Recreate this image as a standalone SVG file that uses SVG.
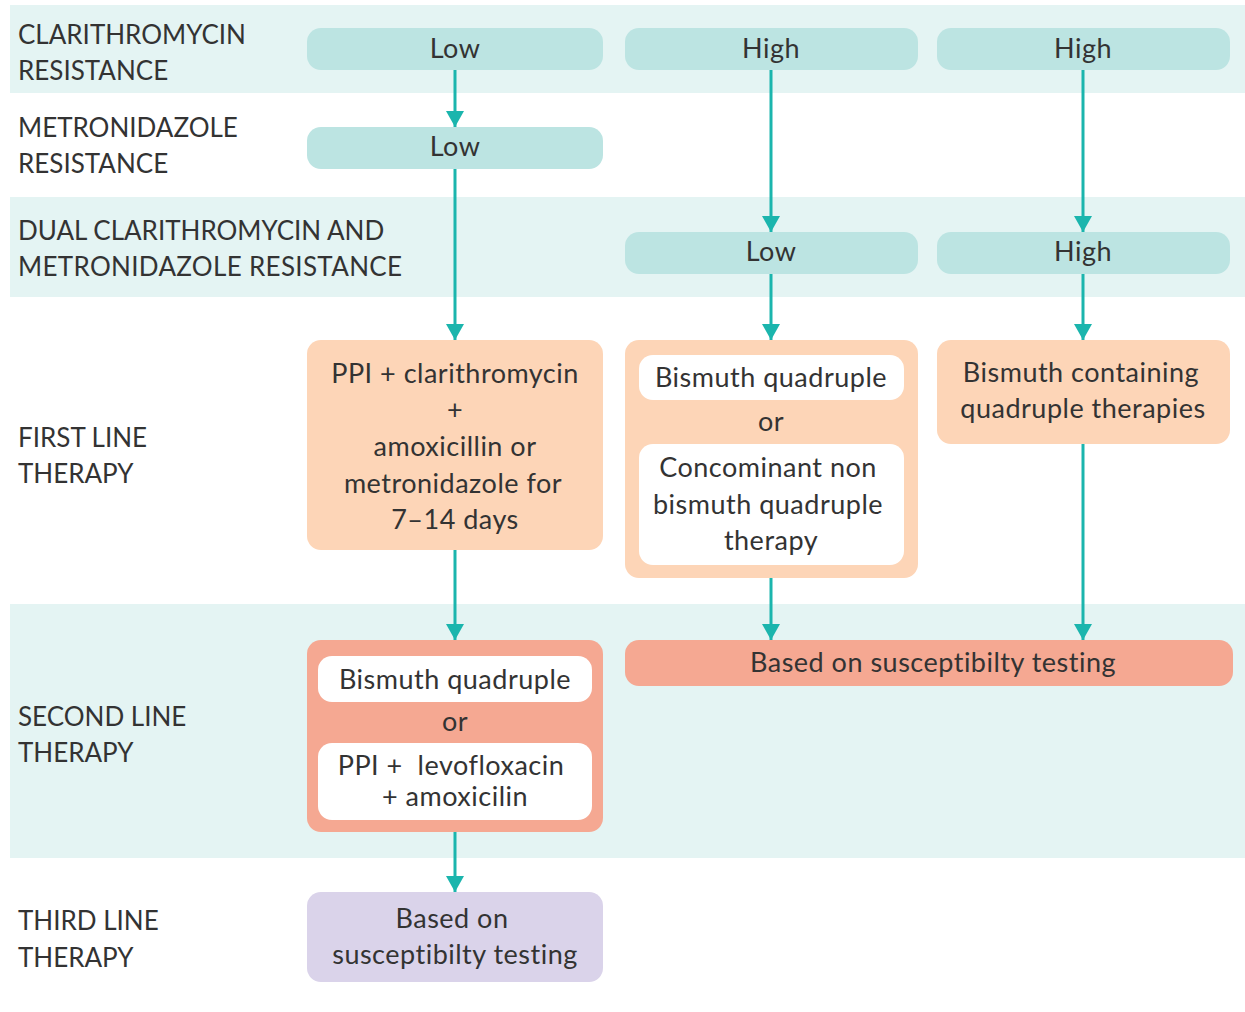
<svg xmlns="http://www.w3.org/2000/svg" width="1245" height="1012" viewBox="0 0 1245 1012">
<defs>
<marker id="ah" markerWidth="18" markerHeight="16" refX="9" refY="16" orient="0" markerUnits="userSpaceOnUse" viewBox="0 0 18 16">
<path d="M0,0 L18,0 L9,16 Z" fill="#1bb5ad"/>
</marker>
<style>
text{font-family:Lato,"Open Sans","Liberation Sans",sans-serif;font-size:26px;fill:#333;}
.c{text-anchor:middle;font-size:27px;letter-spacing:0.5px;}
.band{fill:#e4f4f3;}
.teal{fill:#bce4e2;}
.peach{fill:#fdd5b7;}
.salmon{fill:#f5a892;}
.lav{fill:#dad3ea;}
.white{fill:#fff;}
.conn line{stroke:#1bb5ad;stroke-width:3;marker-end:url(#ah);}
</style>
</defs>
<rect width="1245" height="1012" fill="#fff"/>
<g id="bands">
<rect class="band" x="10" y="5" width="1235" height="88"/>
<rect class="band" x="10" y="197" width="1235" height="100"/>
<rect class="band" x="10" y="604" width="1235" height="254"/>
</g>
<g id="row-labels">
<text x="18" y="44">CLARITHROMYCIN</text>
<text x="18" y="80">RESISTANCE</text>
<text x="18" y="137">METRONIDAZOLE</text>
<text x="18" y="173">RESISTANCE</text>
<text x="18" y="240">DUAL CLARITHROMYCIN AND</text>
<text x="18" y="276" textLength="384">METRONIDAZOLE RESISTANCE</text>
<text x="18" y="447">FIRST LINE</text>
<text x="18" y="483">THERAPY</text>
<text x="18" y="726">SECOND LINE</text>
<text x="18" y="762">THERAPY</text>
<text x="18" y="930">THIRD LINE</text>
<text x="18" y="967">THERAPY</text>
</g>
<g id="clar-low"><rect class="teal" x="307" y="28" width="296" height="42" rx="14"/><text class="c" x="455" y="58">Low</text></g>
<g id="clar-high1"><rect class="teal" x="625" y="28" width="293" height="42" rx="14"/><text class="c" x="771" y="58">High</text></g>
<g id="clar-high2"><rect class="teal" x="937" y="28" width="293" height="42" rx="14"/><text class="c" x="1083" y="58">High</text></g>
<g id="metro-low"><rect class="teal" x="307" y="127" width="296" height="42" rx="14"/><text class="c" x="455" y="156">Low</text></g>
<g id="dual-low"><rect class="teal" x="625" y="232" width="293" height="42" rx="14"/><text class="c" x="771" y="261">Low</text></g>
<g id="dual-high"><rect class="teal" x="937" y="232" width="293" height="42" rx="14"/><text class="c" x="1083" y="261">High</text></g>
<g id="first-a"><rect class="peach" x="307" y="340" width="296" height="210" rx="14"/>
<text class="c" x="455" y="383">PPI + clarithromycin</text>
<text class="c" x="455" y="419">+</text>
<text class="c" x="455" y="456">amoxicillin or</text>
<text class="c" x="453" y="493">metronidazole for</text>
<text class="c" x="455" y="529">7–14 days</text>
</g>
<g id="first-b"><rect class="peach" x="625" y="340" width="293" height="238" rx="14"/>
<rect class="white" x="639" y="355" width="265" height="45" rx="14"/>
<text class="c" x="771" y="387">Bismuth quadruple</text>
<text class="c" x="771" y="431">or</text>
<rect class="white" x="639" y="444" width="265" height="121" rx="14"/>
<text class="c" x="768" y="477">Concominant non</text>
<text class="c" x="768" y="514">bismuth quadruple</text>
<text class="c" x="771" y="550">therapy</text>
</g>
<g id="first-c"><rect class="peach" x="937" y="340" width="293" height="104" rx="14"/>
<text class="c" x="1081" y="382">Bismuth containing</text>
<text class="c" x="1083" y="418">quadruple therapies</text>
</g>
<g id="second-a"><rect class="salmon" x="307" y="640" width="296" height="192" rx="14"/>
<rect class="white" x="318" y="656" width="274" height="46" rx="14"/>
<text class="c" x="455" y="689">Bismuth quadruple</text>
<text class="c" x="455" y="731">or</text>
<rect class="white" x="318" y="743" width="274" height="77" rx="14"/>
<text class="c" x="451" y="775" xml:space="preserve" style="white-space:pre">PPI +  levofloxacin</text>
<text class="c" x="455" y="806">+ amoxicilin</text>
</g>
<g id="second-b"><rect class="salmon" x="625" y="640" width="608" height="46" rx="14"/>
<text class="c" x="933" y="672">Based on susceptibilty testing</text>
</g>
<g id="third"><rect class="lav" x="307" y="892" width="296" height="90" rx="14"/>
<text class="c" x="452" y="928">Based on</text>
<text class="c" x="455" y="964">susceptibilty testing</text>
</g>
<g id="connectors" class="conn">
<line x1="455" y1="70" x2="455" y2="127"/>
<line x1="455" y1="169" x2="455" y2="340"/>
<line x1="771" y1="70" x2="771" y2="232"/>
<line x1="1083" y1="70" x2="1083" y2="232"/>
<line x1="771" y1="274" x2="771" y2="340"/>
<line x1="1083" y1="274" x2="1083" y2="340"/>
<line x1="455" y1="550" x2="455" y2="640"/>
<line x1="771" y1="578" x2="771" y2="640"/>
<line x1="1083" y1="444" x2="1083" y2="640"/>
<line x1="455" y1="832" x2="455" y2="892"/>
</g>
</svg>
